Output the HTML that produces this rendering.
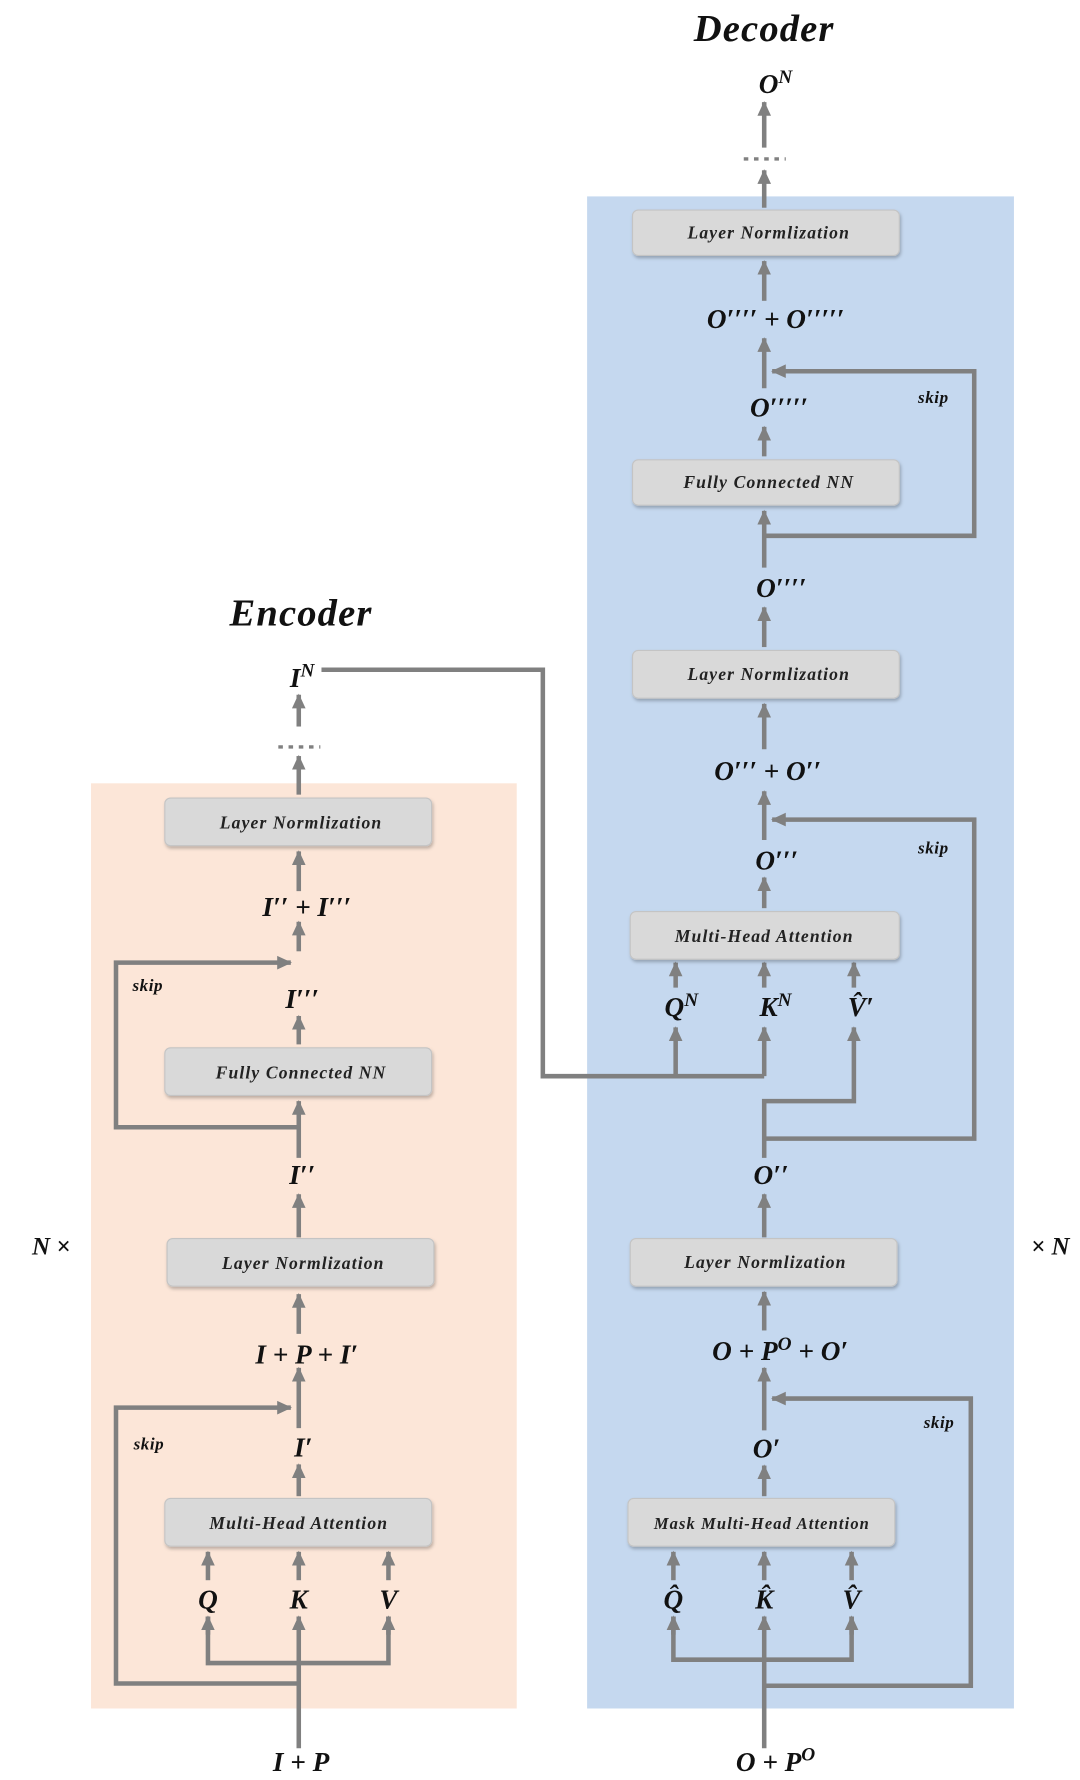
<!DOCTYPE html>
<html><head><meta charset="utf-8"><style>
html,body{margin:0;padding:0;background:#fff}
svg{display:block}
text{font-family:"Liberation Serif",serif;font-weight:bold;font-style:italic;fill:#111;text-anchor:middle}
.bt{font-size:15.5px;letter-spacing:1px;fill:#222}
.m{font-size:24px}
.sk{font-size:15px;letter-spacing:0.5px}
</style></head><body>
<svg width="1080" height="1780" viewBox="0 0 951 1568" xmlns="http://www.w3.org/2000/svg">
<defs>
<marker id="a" markerUnits="userSpaceOnUse" markerWidth="14" markerHeight="14" refX="12" refY="7" orient="auto">
<path d="M0,1 L13,7 L0,13 Z" fill="#808080"/></marker>
<filter id="sh" x="-10%" y="-30%" width="120%" height="170%"><feDropShadow dx="1" dy="2" stdDeviation="1.5" flood-color="#000" flood-opacity="0.25"/></filter>
</defs>
<rect x="80" y="690" width="375" height="815" fill="#fce6d8"/>
<rect x="517" y="173" width="376" height="1332" fill="#c5d8ef"/>

<g fill="none" stroke="#808080" stroke-width="4">
<!-- encoder -->
<line x1="263" y1="640" x2="263" y2="612" marker-end="url(#a)"/>
<line x1="263" y1="700" x2="263" y2="666" marker-end="url(#a)"/>
<line x1="263" y1="785" x2="263" y2="750" marker-end="url(#a)"/>
<line x1="263" y1="838" x2="263" y2="812" marker-end="url(#a)"/>
<polyline points="263,993 102,993 102,848 256,848" marker-end="url(#a)"/>
<line x1="263" y1="920" x2="263" y2="895" marker-end="url(#a)"/>
<line x1="263" y1="1020" x2="263" y2="970" marker-end="url(#a)"/>
<line x1="263" y1="1090" x2="263" y2="1052" marker-end="url(#a)"/>
<line x1="263" y1="1175" x2="263" y2="1140" marker-end="url(#a)"/>
<line x1="263" y1="1258" x2="263" y2="1205" marker-end="url(#a)"/>
<polyline points="263,1483 102,1483 102,1240 256,1240" marker-end="url(#a)"/>
<line x1="263" y1="1318" x2="263" y2="1290" marker-end="url(#a)"/>
<line x1="183" y1="1392" x2="183" y2="1367" marker-end="url(#a)"/>
<line x1="263" y1="1392" x2="263" y2="1367" marker-end="url(#a)"/>
<line x1="342" y1="1392" x2="342" y2="1367" marker-end="url(#a)"/>
<line x1="263" y1="1540" x2="263" y2="1424" marker-end="url(#a)"/>
<polyline points="183,1424 183,1465 342,1465 342,1424"/>
<line x1="183" y1="1440" x2="183" y2="1424" marker-end="url(#a)"/>
<line x1="342" y1="1440" x2="342" y2="1424" marker-end="url(#a)"/>
<!-- decoder -->
<line x1="673" y1="130" x2="673" y2="90" marker-end="url(#a)"/>
<line x1="673" y1="183" x2="673" y2="150" marker-end="url(#a)"/>
<line x1="673" y1="265" x2="673" y2="230" marker-end="url(#a)"/>
<line x1="673" y1="342" x2="673" y2="298" marker-end="url(#a)"/>
<polyline points="673,472 858,472 858,327 680,327" marker-end="url(#a)"/>
<line x1="673" y1="402" x2="673" y2="376" marker-end="url(#a)"/>
<line x1="673" y1="500" x2="673" y2="450" marker-end="url(#a)"/>
<line x1="673" y1="570" x2="673" y2="535" marker-end="url(#a)"/>
<line x1="673" y1="660" x2="673" y2="620" marker-end="url(#a)"/>
<line x1="673" y1="740" x2="673" y2="697" marker-end="url(#a)"/>
<polyline points="673,1003 858,1003 858,722 680,722" marker-end="url(#a)"/>
<line x1="673" y1="800" x2="673" y2="773" marker-end="url(#a)"/>
<line x1="595" y1="870" x2="595" y2="848" marker-end="url(#a)"/>
<line x1="673" y1="870" x2="673" y2="848" marker-end="url(#a)"/>
<line x1="752" y1="870" x2="752" y2="848" marker-end="url(#a)"/>
<polyline points="283,590 478,590 478,948 673,948"/>
<line x1="595" y1="948" x2="595" y2="905" marker-end="url(#a)"/>
<line x1="673" y1="948" x2="673" y2="905" marker-end="url(#a)"/>
<polyline points="673,1020 673,970 752,970 752,905" marker-end="url(#a)"/>
<line x1="673" y1="1090" x2="673" y2="1052" marker-end="url(#a)"/>
<line x1="673" y1="1172" x2="673" y2="1138" marker-end="url(#a)"/>
<line x1="673" y1="1260" x2="673" y2="1205" marker-end="url(#a)"/>
<polyline points="673,1485 855,1485 855,1232 680,1232" marker-end="url(#a)"/>
<line x1="673" y1="1318" x2="673" y2="1291" marker-end="url(#a)"/>
<line x1="593" y1="1392" x2="593" y2="1367" marker-end="url(#a)"/>
<line x1="673" y1="1392" x2="673" y2="1367" marker-end="url(#a)"/>
<line x1="750" y1="1392" x2="750" y2="1367" marker-end="url(#a)"/>
<line x1="673" y1="1540" x2="673" y2="1424" marker-end="url(#a)"/>
<polyline points="593,1424 593,1462 750,1462 750,1424"/>
<line x1="593" y1="1440" x2="593" y2="1424" marker-end="url(#a)"/>
<line x1="750" y1="1440" x2="750" y2="1424" marker-end="url(#a)"/>
</g>
<g fill="none" stroke="#808080" stroke-width="3" stroke-dasharray="4,5">
<line x1="245" y1="658" x2="282" y2="658"/>
<line x1="655" y1="140" x2="692" y2="140"/>
</g>

<g fill="#d9d9d9" stroke="#c4c4c4" stroke-width="1" filter="url(#sh)">
<rect x="145" y="703" width="235" height="42" rx="5"/>
<rect x="145" y="923" width="235" height="42" rx="5"/>
<rect x="147" y="1091" width="235" height="42" rx="5"/>
<rect x="145" y="1320" width="235" height="42" rx="5"/>
<rect x="557" y="185" width="235" height="40" rx="5"/>
<rect x="557" y="405" width="235" height="40" rx="5"/>
<rect x="557" y="573" width="235" height="42" rx="5"/>
<rect x="555" y="803" width="237" height="42" rx="5"/>
<rect x="555" y="1091" width="235" height="42" rx="5"/>
<rect x="553" y="1320" width="235" height="42" rx="5"/>
</g>
<text class="bt" x="265" y="730">Layer Normlization</text>
<text class="bt" x="265" y="950">Fully Connected NN</text>
<text class="bt" x="267" y="1118">Layer Normlization</text>
<text class="bt" x="263" y="1347">Multi-Head Attention</text>
<text class="bt" x="677" y="210">Layer Normlization</text>
<text class="bt" x="677" y="430">Fully Connected NN</text>
<text class="bt" x="677" y="599">Layer Normlization</text>
<text class="bt" x="673" y="830">Multi-Head Attention</text>
<text class="bt" x="674" y="1117">Layer Normlization</text>
<text class="bt" x="671" y="1347" style="font-size:14.5px">Mask Multi-Head Attention</text>

<text x="265" y="551" style="font-size:34px;letter-spacing:1px">Encoder</text>
<text x="673" y="36" style="font-size:34px;letter-spacing:1px">Decoder</text>
<text class="m" x="266" y="605">I<tspan dy="-9" font-size="17">N</tspan></text>
<text class="m" x="270" y="807">I′′ + I′′′</text>
<text class="m" x="266" y="888">I′′′</text>
<text class="m" x="266" y="1043">I′′</text>
<text class="m" x="270" y="1201">I + P + I′</text>
<text class="m" x="267" y="1283">I′</text>
<text class="m" x="183" y="1417">Q</text>
<text class="m" x="263" y="1417">K</text>
<text class="m" x="342" y="1417">V</text>
<text class="m" x="265" y="1560">I + P</text>
<text class="sk" x="130" y="873">skip</text>
<text class="sk" x="131" y="1277">skip</text>
<text class="m" x="45" y="1105" style="font-size:22px">N ×</text>
<text class="m" x="925" y="1105" style="font-size:22px">× N</text>

<text class="m" x="683" y="82">O<tspan dy="-9" font-size="17">N</tspan></text>
<text class="m" x="683" y="289">O′′′′ + O′′′′′</text>
<text class="m" x="686" y="367">O′′′′′</text>
<text class="m" x="688" y="526">O′′′′</text>
<text class="m" x="676" y="687">O′′′ + O′′</text>
<text class="m" x="684" y="766">O′′′</text>
<text class="m" x="600" y="895">Q<tspan dy="-9" font-size="17">N</tspan></text>
<text class="m" x="683" y="895">K<tspan dy="-9" font-size="17">N</tspan></text>
<text class="m" x="758" y="895">V̂′</text>
<text class="m" x="679" y="1043">O′′</text>
<text class="m" x="687" y="1198">O + P<tspan dy="-9" font-size="17">O</tspan><tspan dy="9"> + O′</tspan></text>
<text class="m" x="675" y="1284">O′</text>
<text class="m" x="593" y="1417">Q̂</text>
<text class="m" x="673" y="1417">K̂</text>
<text class="m" x="750" y="1417">V̂</text>
<text class="m" x="683" y="1560">O + P<tspan dy="-9" font-size="17">O</tspan></text>
<text class="sk" x="822" y="355">skip</text>
<text class="sk" x="822" y="752">skip</text>
<text class="sk" x="827" y="1258">skip</text>
</svg>
</body></html>
